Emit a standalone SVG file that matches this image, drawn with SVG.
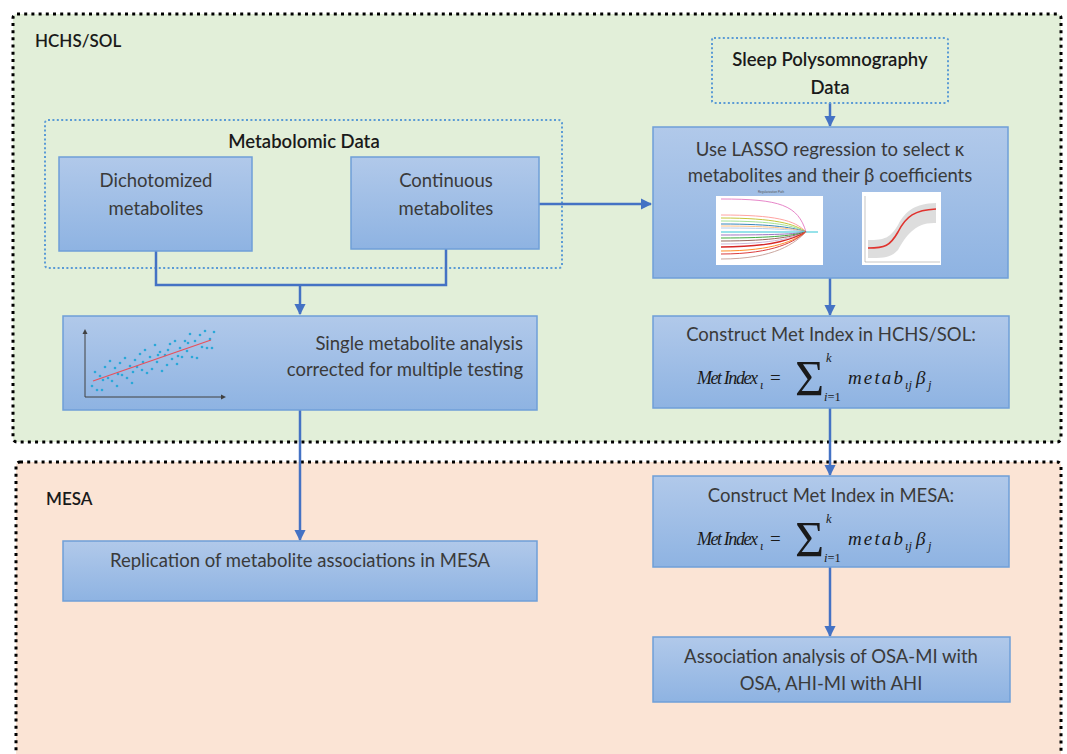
<svg xmlns="http://www.w3.org/2000/svg" width="1067" height="754" viewBox="0 0 1067 754">
<defs>
<linearGradient id="nodeGrad" x1="0" y1="0" x2="0" y2="1">
<stop offset="0" stop-color="#b1c9ea"/>
<stop offset="1" stop-color="#8eb3e2"/>
</linearGradient>
<marker id="arr" viewBox="0 0 10 10" refX="9" refY="5" markerWidth="4.5" markerHeight="4.5" orient="auto" markerUnits="strokeWidth">
<path d="M0,0 L10,5 L0,10 z" fill="#4472c4"/>
</marker>
<style>
.region{stroke:#000;stroke-width:3;stroke-dasharray:3 4.2;}
.node{fill:url(#nodeGrad);stroke:#6f9fd8;stroke-width:1.5;}
.dotbox{fill:none;stroke:#5b9bd5;stroke-width:2;stroke-dasharray:2 2.4;}
.t{font-family:Lato,"Open Sans","Liberation Sans",sans-serif;font-size:18.5px;fill:#3a3a3a;text-anchor:middle;}
.tb{font-family:Lato,"Open Sans","Liberation Sans",sans-serif;font-size:18.5px;font-weight:600;fill:#1a1a1a;}
.conn{fill:none;stroke:#4472c4;stroke-width:2.5;}
.m{font-family:"Liberation Serif","DejaVu Serif",serif;font-style:italic;font-size:19px;fill:#1a1a1a;}
.ms{font-family:"Liberation Serif","DejaVu Serif",serif;font-style:italic;font-size:12.5px;fill:#1a1a1a;}
.mn{font-family:"Liberation Serif","DejaVu Serif",serif;font-size:19px;fill:#1a1a1a;}
.sig{font-family:"Liberation Serif","DejaVu Serif",serif;font-size:50px;fill:#1a1a1a;}
.dot{fill:#2aa8d8;}
</style>
</defs>

<g id="region-hchs">
<rect x="13" y="14" width="1048" height="428" rx="4" fill="#e2efd9" class="region"/>
<text x="35" y="47" class="tb" style="font-size:17px">HCHS/SOL</text>
</g>
<g id="region-mesa">
<rect x="16" y="462" width="1045" height="310" rx="4" fill="#fbe4d5" class="region"/>
<text x="46" y="505" class="tb" style="font-size:17px">MESA</text>
</g>

<g id="metabolomic-data">
<rect x="45" y="120" width="517" height="148" rx="3" class="dotbox"/>
<text x="304" y="148" class="tb" style="text-anchor:middle">Metabolomic Data</text>
</g>

<g id="connectors">
<polyline class="conn" points="156,251 156,285 446,285 446,249"/>
<line class="conn" x1="300" y1="285" x2="300" y2="314" marker-end="url(#arr)"/>
<line class="conn" x1="539" y1="204" x2="651" y2="204" marker-end="url(#arr)"/>
<line class="conn" x1="830" y1="103" x2="830" y2="126" marker-end="url(#arr)"/>
<line class="conn" x1="830" y1="278" x2="830" y2="315" marker-end="url(#arr)"/>
<line class="conn" x1="830" y1="408" x2="830" y2="475" marker-end="url(#arr)"/>
<line class="conn" x1="830" y1="567" x2="830" y2="636" marker-end="url(#arr)"/>
<line class="conn" x1="300" y1="410" x2="300" y2="540" marker-end="url(#arr)"/>
</g>

<g id="dichotomized">
<rect x="59" y="157" width="193" height="94" class="node"/>
<text x="156" y="187" class="t">Dichotomized</text>
<text x="156" y="215" class="t">metabolites</text>
</g>

<g id="continuous">
<rect x="351" y="157" width="188" height="92" class="node"/>
<text x="446" y="187" class="t">Continuous</text>
<text x="446" y="215" class="t">metabolites</text>
</g>

<g id="sleep-psg">
<rect x="712" y="38" width="236" height="65" rx="2" class="dotbox"/>
<text x="830" y="66" class="tb" style="text-anchor:middle">Sleep Polysomnography</text>
<text x="830" y="94" class="tb" style="text-anchor:middle">Data</text>
</g>

<g id="lasso">
<rect x="653" y="127" width="355" height="151" class="node"/>
<text x="830" y="156" class="t">Use LASSO regression to select κ</text>
<text x="830" y="182" class="t">metabolites and their β coefficients</text>
<text x="771" y="193" style="font-family:'Liberation Sans',sans-serif;font-size:3px;fill:#555;text-anchor:middle">Regularization Path</text>
<rect x="716" y="196" width="107" height="69" fill="#fff"/>
<g fill="none" stroke-width="0.9">
<path d="M721,199 C780,199 798,205 806,232" stroke="#e377c2"/>
<path d="M721,215 C775,215 795,220 806,232" stroke="#ff9896"/>
<path d="M721,218 C775,218 795,224 806,232" stroke="#bcbd22"/>
<path d="M721,221 C775,221 795,226 806,232" stroke="#98df8a"/>
<path d="M721,224 C775,224 795,228 806,232" stroke="#1f77b4"/>
<path d="M721,226 C775,226 795,229 806,232" stroke="#ffbb78"/>
<path d="M721,228 C775,228 795,230 806,232" stroke="#aec7e8"/>
<path d="M721,232 L818,232" stroke="#17becf"/>
<path d="M721,235 C775,235 795,234 806,232" stroke="#9467bd"/>
<path d="M721,238 C775,238 795,235 806,232" stroke="#2ca02c"/>
<path d="M721,241 C775,241 795,236 806,232" stroke="#8c564b"/>
<path d="M721,244 C775,244 795,237 806,232" stroke="#c5b0d5"/>
<path d="M721,247 C775,247 795,238 806,232" stroke="#d62728" stroke-width="1.3"/>
<path d="M721,251 C775,251 795,240 806,232" stroke="#ff7f0e"/>
<path d="M721,254 C775,254 795,241 806,232" stroke="#d62728"/>
<path d="M721,259 C775,259 795,243 806,232" stroke="#c49c94"/>
</g>
<rect x="862" y="192" width="79" height="73" fill="#fff"/>
<path d="M868,240 C885,240 890,238 898,225 C906,210 915,204 936,203 L936,223 C915,222 906,236 898,250 C890,258 885,258 868,258 z" fill="#d4d4d4" opacity="0.8"/>
<path d="M868,248 C885,248 890,246 898,232 C906,216 915,210 936,209" fill="none" stroke="#e0332e" stroke-width="1.6"/>
<line x1="865" y1="196" x2="865" y2="262" stroke="#888" stroke-width="0.5"/>
<line x1="865" y1="262" x2="940" y2="262" stroke="#888" stroke-width="0.5"/>
</g>

<g id="single-metabolite">
<rect x="63" y="316" width="474" height="94" class="node"/>
<text x="523" y="350" class="t" style="text-anchor:end">Single metabolite analysis</text>
<text x="523" y="376" class="t" style="text-anchor:end">corrected for multiple testing</text>
<polyline points="85,331 85,397 224,397" fill="none" stroke="#404040" stroke-width="1"/>
<path d="M82.5,334 L85,329 L87.5,334 z" fill="#404040"/>
<path d="M221,394.5 L226,397 L221,399.5 z" fill="#404040"/>
<g class="dot">
<circle cx="92" cy="386" r="1.3"/><circle cx="95" cy="372" r="1.3"/><circle cx="97" cy="390" r="1.3"/><circle cx="100" cy="376" r="1.3"/><circle cx="102" cy="390" r="1.3"/><circle cx="105" cy="367" r="1.3"/><circle cx="108" cy="378" r="1.3"/><circle cx="110" cy="361" r="1.3"/><circle cx="112" cy="381" r="1.3"/><circle cx="115" cy="368" r="1.3"/><circle cx="117" cy="386" r="1.3"/><circle cx="120" cy="363" r="1.3"/><circle cx="122" cy="375" r="1.3"/><circle cx="125" cy="358" r="1.3"/><circle cx="127" cy="378" r="1.3"/><circle cx="130" cy="366" r="1.3"/><circle cx="132" cy="383" r="1.3"/><circle cx="135" cy="360" r="1.3"/><circle cx="137" cy="367" r="1.3"/><circle cx="140" cy="354" r="1.3"/><circle cx="142" cy="370" r="1.3"/><circle cx="145" cy="350" r="1.3"/><circle cx="147" cy="373" r="1.3"/><circle cx="150" cy="357" r="1.3"/><circle cx="152" cy="369" r="1.3"/><circle cx="155" cy="345" r="1.3"/><circle cx="157" cy="362" r="1.3"/><circle cx="160" cy="352" r="1.3"/><circle cx="162" cy="371" r="1.3"/><circle cx="165" cy="355" r="1.3"/><circle cx="167" cy="365" r="1.3"/><circle cx="170" cy="344" r="1.3"/><circle cx="172" cy="359" r="1.3"/><circle cx="175" cy="341" r="1.3"/><circle cx="177" cy="364" r="1.3"/><circle cx="180" cy="348" r="1.3"/><circle cx="182" cy="357" r="1.3"/><circle cx="185" cy="341" r="1.3"/><circle cx="187" cy="351" r="1.3"/><circle cx="190" cy="334" r="1.3"/><circle cx="192" cy="357" r="1.3"/><circle cx="195" cy="341" r="1.3"/><circle cx="197" cy="358" r="1.3"/><circle cx="200" cy="335" r="1.3"/><circle cx="202" cy="347" r="1.3"/><circle cx="205" cy="331" r="1.3"/><circle cx="207" cy="348" r="1.3"/><circle cx="210" cy="339" r="1.3"/><circle cx="212" cy="348" r="1.3"/><circle cx="214" cy="332" r="1.3"/>
<circle cx="118" cy="374" r="1.3"/><circle cx="143" cy="362" r="1.3"/><circle cx="168" cy="350" r="1.3"/><circle cx="188" cy="343" r="1.3"/><circle cx="133" cy="372" r="1.3"/><circle cx="158" cy="355" r="1.3"/><circle cx="178" cy="356" r="1.3"/><circle cx="103" cy="380" r="1.3"/>
</g>
<line x1="93" y1="381" x2="211" y2="340" stroke="#e8505b" stroke-width="1.2"/>
</g>

<g id="met-index-hchs">
<rect x="653" y="316" width="356" height="92" class="node"/>
<text x="831" y="341" class="t">Construct Met Index in HCHS/SOL:</text>
<text x="697" y="384" class="m" style="font-size:18px" textLength="61" lengthAdjust="spacing">Met Index</text>
<text x="760" y="389" class="ms">ι</text>
<text x="770" y="384" class="mn">=</text>
<text x="795" y="395" class="sig">Σ</text>
<text x="826" y="362" class="ms">k</text>
<text x="824" y="401" class="ms">i<tspan font-style="normal">=1</tspan></text>
<text x="848" y="384" class="m" textLength="55" lengthAdjust="spacing">metab</text>
<text x="905" y="389" class="ms">ιj</text>
<text x="916" y="384" class="m">β</text>
<text x="928" y="389" class="ms">j</text>
</g>

<g id="met-index-mesa">
<rect x="653" y="476" width="356" height="91" class="node"/>
<text x="831" y="502" class="t">Construct Met Index in MESA:</text>
<text x="697" y="545" class="m" style="font-size:18px" textLength="61" lengthAdjust="spacing">Met Index</text>
<text x="760" y="550" class="ms">ι</text>
<text x="770" y="545" class="mn">=</text>
<text x="795" y="556" class="sig">Σ</text>
<text x="826" y="523" class="ms">k</text>
<text x="824" y="562" class="ms">i<tspan font-style="normal">=1</tspan></text>
<text x="848" y="545" class="m" textLength="55" lengthAdjust="spacing">metab</text>
<text x="905" y="550" class="ms">ιj</text>
<text x="916" y="545" class="m">β</text>
<text x="928" y="550" class="ms">j</text>
</g>

<g id="association">
<rect x="653" y="637" width="357" height="65" class="node"/>
<text x="831" y="663" class="t">Association analysis of OSA-MI with</text>
<text x="831" y="690" class="t">OSA, AHI-MI with AHI</text>
</g>

<g id="replication">
<rect x="63" y="541" width="474" height="60" class="node"/>
<text x="300" y="567" class="t">Replication of metabolite associations in MESA</text>
</g>
</svg>
